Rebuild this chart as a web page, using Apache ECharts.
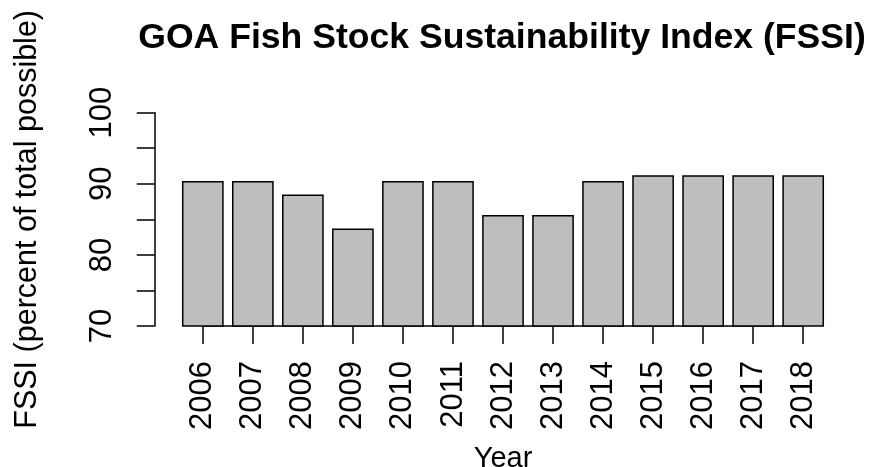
<!DOCTYPE html>
<html>
<head>
<meta charset="utf-8">
<script src="https://cdn.jsdelivr.net/npm/echarts@6/dist/echarts.min.js"></script>
<style>
html,body{margin:0;padding:0;background:#fff;}
#chart{width:872px;height:467px;}
</style>
</head>
<body>
<div id="chart"></div>
<script>
var years = ['2006','2007','2008','2009','2010','2011','2012','2013','2014','2015','2016','2017','2018'];
var fssi = [90.4, 90.4, 88.5, 83.7, 90.4, 90.4, 85.6, 85.6, 90.4, 91.2, 91.2, 91.2, 91.2];
var yMin = 70, yMax = 100, yStep = 5, yLabelStep = 10;
var titleText = 'GOA Fish Stock Sustainability Index (FSSI)';
var xName = 'Year';
var yName = 'FSSI (percent of total possible)';

var FONT = '"Liberation Sans", Arial, Helvetica, sans-serif';
var chart = echarts.init(document.getElementById('chart'), null, {renderer: 'canvas'});
var gridTop = 112.7, gridBottom = 141;
chart.setOption({
  animation: false,
  backgroundColor: '#ffffff',
  title: {
    text: titleText,
    left: 502, top: 20, padding: 0,
    textAlign: 'center',
    textStyle: {fontFamily: FONT, fontWeight: 'bold', fontSize: 35.6, color: '#000'}
  },
  grid: [
    {left: 177.8, right: 43.8, top: gridTop, bottom: gridBottom, containLabel: false, outerBoundsMode: 'none'},
    {left: 202.8, right: 68.8, top: gridTop, bottom: gridBottom, containLabel: false, outerBoundsMode: 'none'}
  ],
  xAxis: [{
    type: 'category', gridIndex: 0, data: years,
    boundaryGap: true,
    axisLine: {show: false},
    axisTick: {show: true, alignWithLabel: true, length: 18, lineStyle: {color: '#000', width: 1.5}},
    axisLabel: {rotate: 90, margin: 35, fontFamily: FONT, fontSize: 31, color: '#000', interval: 0},
    name: xName, nameLocation: 'middle', nameGap: 118, nameMoveOverlap: false,
    nameTextStyle: {fontFamily: FONT, fontSize: 29, color: '#000'},
    splitLine: {show: false}
  }, {
    type: 'value', gridIndex: 1, min: 0, max: 1,
    axisLine: {show: true, onZero: false, lineStyle: {color: '#000', width: 1.5}},
    axisTick: {show: false}, axisLabel: {show: false}, splitLine: {show: false}
  }],
  yAxis: [{
    type: 'value', gridIndex: 0, min: yMin, max: yMax, interval: yStep,
    offset: 23,
    axisLine: {show: true, lineStyle: {color: '#000', width: 1.5}},
    axisTick: {show: true, length: 18, lineStyle: {color: '#000', width: 1.5}},
    axisLabel: {
      rotate: 90, margin: 37, fontFamily: FONT, fontSize: 31, color: '#000',
      formatter: function (v) { return (v % yLabelStep === 0) ? String(v) : ''; }
    },
    splitLine: {show: false},
    name: yName, nameLocation: 'middle', nameGap: 112, nameMoveOverlap: false,
    nameTextStyle: {fontFamily: FONT, fontSize: 30.5, color: '#000'}
  }, {
    type: 'value', gridIndex: 1, min: 0, max: 1, show: false
  }],
  series: [{
    type: 'bar', xAxisIndex: 0, yAxisIndex: 0,
    data: fssi,
    barCategoryGap: '16.67%',
    itemStyle: {color: '#bebebe', borderColor: '#000', borderWidth: 1.5},
    emphasis: {disabled: true}
  }]
});
</script>
</body>
</html>
